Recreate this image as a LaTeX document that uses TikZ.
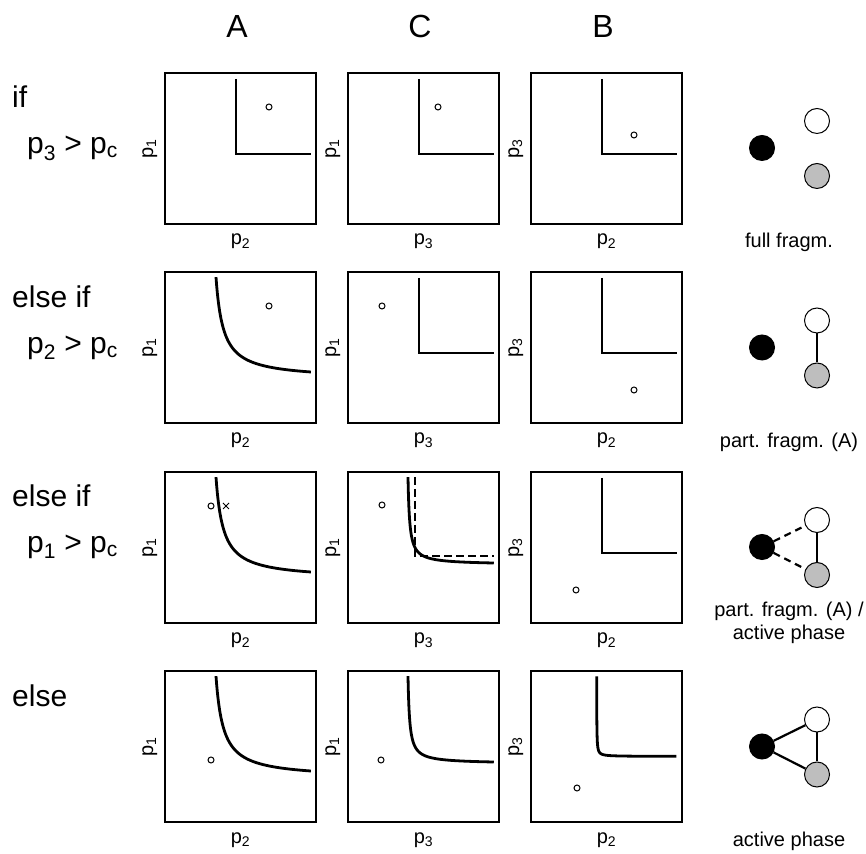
\documentclass[tikz,border=0pt]{standalone}
\usepackage{fontspec}
\setmainfont{Liberation Sans}
\usepackage{tikz}
\definecolor{nodegrey}{HTML}{BEBEBE}
\newcommand{\pvar}[1]{p\textsubscript{#1}}

\begin{document}
\begin{tikzpicture}[x=1pt, y=1pt,
        panel/.style={line width=1.3pt},
        curve/.style={line width=2.8pt},
        obs/.style={line width=1pt},
        axlabel/.style={inner sep=0, anchor=base, font=\fontsize{20}{24}\selectfont}]
                \useasboundingbox (0,0) rectangle (866,853);
                \begin{scope}[every node/.style={anchor=base, font=\fontsize{32}{38}\selectfont}]
                        \node (headA) at (237,815) {A};
                        \node (headC) at (420,815) {C};
                        \node (headB) at (603,815) {B};
                \end{scope}
                \begin{scope}[every node/.style={anchor=base west, inner sep=0, font=\fontsize{30}{36}\selectfont}]
                        \node (if1) at (12,745) {if};
                        \node (cond1) at (27,699) {\pvar{3} > \pvar{c}};
                        \node (if2) at (12,545.5) {else if};
                        \node (cond2) at (27,499.5) {\pvar{2} > \pvar{c}};
                        \node (if3) at (12,346) {else if};
                        \node (cond3) at (27,300) {\pvar{1} > \pvar{c}};
                        \node (if4) at (12,146.5) {else};
                \end{scope}
                \foreach \bx/\xl/\yl in {165/2/1, 348/3/1, 531/2/3}
                        \foreach \by in {629,430,230,31} {
                                \draw[panel] (\bx,\by) rectangle ++(151,151);
                                \node[axlabel] (xlab-\bx-\by) at (\bx+75.5,\by-21) {\pvar{\xl}};
                                \node[axlabel, rotate=90] (ylab-\bx-\by) at (\bx-12,\by+75.5) {\pvar{\yl}};
                        }
                % row 1
                \begin{scope}[shift={(165,629)}]
                        \draw[curve] (71,145) |- (146,70);
                        \draw[obs] (104,117) circle [radius=3];
                \end{scope}
                \begin{scope}[shift={(348,629)}]
                        \draw[curve] (71,145) |- (146,70);
                        \draw[obs] (90,117) circle [radius=3];
                \end{scope}
                \begin{scope}[shift={(531,629)}]
                        \draw[curve] (71,145) |- (146,70);
                        \draw[obs] (103,89) circle [radius=3];
                \end{scope}
                % row 2
                \begin{scope}[shift={(165,430)}]
                        \draw[curve] plot[domain=-1.32:1.32, samples=80, variable=\t] ({43.7+27.3*exp(\t)}, {43.7+27.3*exp(-\t)});
                        \draw[obs] (104,117) circle [radius=3];
                \end{scope}
                \begin{scope}[shift={(348,430)}]
                        \draw[curve] (71,145) |- (146,70);
                        \draw[obs] (34,117) circle [radius=3];
                \end{scope}
                \begin{scope}[shift={(531,430)}]
                        \draw[curve] (71,145) |- (146,70);
                        \draw[obs] (103,33) circle [radius=3];
                \end{scope}
                % row 3
                \begin{scope}[shift={(165,230)}]
                        \draw[curve] plot[domain=-1.32:1.32, samples=80, variable=\t] ({43.7+27.3*exp(\t)}, {43.7+27.3*exp(-\t)});
                        \draw[obs] (46,117) circle [radius=3];
                        \draw[obs] (58,114) -- (64,120) (58,120) -- (64,114);
                \end{scope}
                \begin{scope}[shift={(348,230)}]
                        \draw[curve] plot[domain=-1.97:1.97, samples=100, variable=\t] ({58.3+12.2*exp(\t)}, {58.3+12.2*exp(-\t)});
                        \draw[curve, dash pattern=on 8pt off 4pt] (67,146) |- (146,67);
                        \draw[obs] (34,118) circle [radius=3];
                \end{scope}
                \begin{scope}[shift={(531,230)}]
                        \draw[curve] (71,145) |- (146,70);
                        \draw[obs] (45,33) circle [radius=3];
                \end{scope}
                % row 4
                \begin{scope}[shift={(165,31)}]
                        \draw[curve] plot[domain=-1.32:1.32, samples=80, variable=\t] ({43.7+27.3*exp(\t)}, {43.7+27.3*exp(-\t)});
                        \draw[obs] (46,62) circle [radius=3];
                \end{scope}
                \begin{scope}[shift={(348,31)}]
                        \draw[curve] plot[domain=-1.97:1.97, samples=100, variable=\t] ({58.3+12.2*exp(\t)}, {58.3+12.2*exp(-\t)});
                        \draw[obs] (33,62) circle [radius=3];
                \end{scope}
                \begin{scope}[shift={(531,31)}]
                        \draw[curve] plot[domain=-3.13:3.13, samples=120, variable=\t] ({65.5+3.5*exp(\t)}, {65.5+3.5*exp(-\t)});
                        \draw[obs] (46,34) circle [radius=3];
                \end{scope}
                % species graphs
                \begin{scope}[every node/.style={draw, circle, minimum size=25pt, inner sep=0, line width=1pt}]
                        \node[fill=black] (blk1) at (762,705) {};
                        \node[fill=white] (wht1) at (817,732) {};
                        \node[fill=nodegrey] (gry1) at (817,677) {};
                        \node[fill=black] (blk2) at (762,505.5) {};
                        \node[fill=white] (wht2) at (817,532.5) {};
                        \node[fill=nodegrey] (gry2) at (817,477.5) {};
                        \node[fill=black] (blk3) at (762,306) {};
                        \node[fill=white] (wht3) at (817,333) {};
                        \node[fill=nodegrey] (gry3) at (817,278) {};
                        \node[fill=black] (blk4) at (762,106.5) {};
                        \node[fill=white] (wht4) at (817,133.5) {};
                        \node[fill=nodegrey] (gry4) at (817,78.5) {};
                \end{scope}
                \begin{scope}[every path/.style={line width=2.2pt}]
                        \path (wht2) edge (gry2);
                        \path (wht3) edge (gry3);
                        \path (blk3) edge [dash pattern=on 7pt off 5pt] (wht3);
                        \path (blk3) edge [dash pattern=on 7pt off 5pt] (gry3);
                        \path (wht4) edge (gry4);
                        \path (blk4) edge (wht4);
                        \path (blk4) edge (gry4);
                \end{scope}
                \begin{scope}[every node/.style={anchor=base, align=center, font=\fontsize{20}{23}\selectfont}]
                        \node (lab1) at (789,605) {full fragm.};
                        \node (lab2) at (789,405) {part. fragm. (A)};
                        \node (lab3) at (789,213) {part. fragm. (A) /\\active phase};
                        \node (lab4) at (789,7) {active phase};
                \end{scope}
        \end{tikzpicture}
\end{document}
